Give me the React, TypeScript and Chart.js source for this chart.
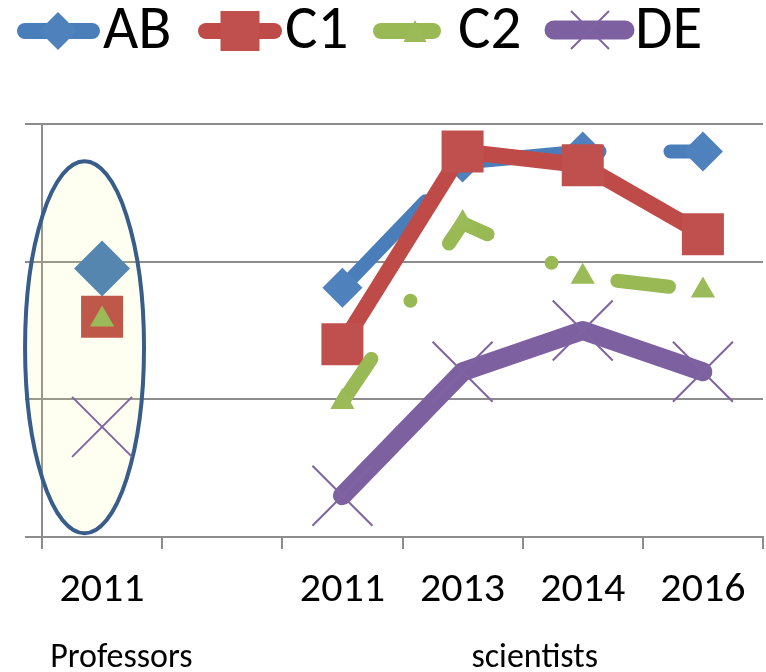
import React, { useEffect, useRef } from 'react';
import { Chart, registerables } from 'chart.js';

Chart.register(...registerables);

// ---- data ----
const categories = ['2011', '', '2011', '2013', '2014', '2016'];
const groupLabels = ['Professors', 'scientists'];
const seriesNames = ['AB', 'C1', 'C2', 'DE'];
const abValues = [1.95, null, 1.81, 2.72, 2.8, 2.8];
const c1Values = [1.6, null, 1.4, 2.8, 2.7, 2.2];
const c2Values = [1.58, null, 0.98, 2.28, 1.89, 1.79];
const deValues = [0.8, null, 0.3, 1.2, 1.5, 1.2];
const yTickValues = [0, 1, 2, 3];
const PROF_INDEX = 0; // first category belongs to the "Professors" group

// ---- layout / style constants ----
const GROUP_CENTERS = [0.16, 3.6]; // in category units
const ELLIPSE = { cx: -0.146, rx: 0.495, cy: 1.378, ry: 1.351 };
const COLORS = {
  ab: { line: '#4A7EBB', mark: '#4F81BD', prof: '#5586B0' },
  c1: { line: '#BE4B48', mark: '#C0504D', prof: '#C0584A' },
  c2: { line: '#98B954', mark: '#9BBB59', prof: '#9BBB59' },
  de: { line: '#7D60A0', mark: '#8064A2', prof: '#8064A2' },
};
const GRID = '#8c8c8c';

function hasFont(name: string) {
  const ctx = document.createElement('canvas').getContext('2d')!;
  const s = 'AB C1 2011 Professors scientists';
  ctx.font = '40px monospace';
  const a = ctx.measureText(s).width;
  ctx.font = `40px "${name}", monospace`;
  const b = ctx.measureText(s).width;
  return Math.abs(a - b) > 0.5;
}

const profPart = (vals: (number | null)[]) => vals.map((v, i) => (i === PROF_INDEX ? v : null));
const sciPart = (vals: (number | null)[]) => vals.map((v, i) => (i === PROF_INDEX ? null : v));

export default function App() {
  const ref = useRef<HTMLCanvasElement>(null);

  useEffect(() => {
    const canvas = ref.current!;
    const carlito = hasFont('Carlito');
    const fam = carlito ? 'Carlito, Lato, sans-serif' : 'Lato, sans-serif';
    const sz = carlito ? { legend: 61, year: 42, group: 34, pad: 16 } : { legend: 55, year: 37, group: 31, pad: 19 };

    const ellipsePlugin = {
      id: 'profEllipse',
      beforeDatasetsDraw(chart: any) {
        const { ctx } = chart;
        const xs = chart.scales.x;
        const ys = chart.scales.y;
        const cx = xs.getPixelForValue(ELLIPSE.cx);
        const rx = xs.getPixelForValue(ELLIPSE.rx) - xs.getPixelForValue(0);
        const cy = ys.getPixelForValue(ELLIPSE.cy);
        const ry = ys.getPixelForValue(0) - ys.getPixelForValue(ELLIPSE.ry);
        ctx.save();
        ctx.beginPath();
        ctx.ellipse(cx, cy, rx, ry, 0, 0, Math.PI * 2);
        ctx.fillStyle = 'rgba(255,255,150,0.13)';
        ctx.fill();
        ctx.lineWidth = 4;
        ctx.strokeStyle = '#385D8A';
        ctx.stroke();
        ctx.restore();
      },
    };

    const legendLayout = [
      { line: [25, 92], y: 31, w: 16, mark: 58, text: 103 },
      { line: [206, 274], y: 31, w: 16, mark: 240, text: 285 },
      { line: [381, 433], y: 31, w: 16, mark: 415, text: 458 },
      { line: [554, 625], y: 30, w: 19, mark: 590, text: 635 },
    ];
    const legendColors = [COLORS.ab, COLORS.c1, COLORS.c2, COLORS.de];

    const legendPlugin = {
      id: 'iconLegend',
      afterDraw(chart: any) {
        const { ctx } = chart;
        ctx.save();
        legendLayout.forEach((L, i) => {
          const c = legendColors[i];
          ctx.beginPath();
          ctx.lineCap = 'round';
          ctx.lineWidth = L.w;
          ctx.strokeStyle = c.line;
          ctx.moveTo(L.line[0], L.y);
          ctx.lineTo(L.line[1], L.y);
          ctx.stroke();
          ctx.fillStyle = c.mark;
          ctx.strokeStyle = c.mark;
          const m = L.mark;
          const y = L.y;
          ctx.beginPath();
          if (i === 0) {
            ctx.moveTo(m - 19, y);
            ctx.lineTo(m, y - 19);
            ctx.lineTo(m + 19, y);
            ctx.lineTo(m, y + 19);
            ctx.closePath();
            ctx.fill();
          } else if (i === 1) {
            ctx.rect(m - 19.5, y - 20, 39, 40);
            ctx.fill();
          } else if (i === 2) {
            ctx.moveTo(m, y - 11);
            ctx.lineTo(m + 11.5, y + 11);
            ctx.lineTo(m - 11.5, y + 11);
            ctx.closePath();
            ctx.fill();
          } else {
            ctx.lineWidth = 2;
            ctx.lineCap = 'butt';
            ctx.moveTo(m - 19, y - 19);
            ctx.lineTo(m + 19, y + 19);
            ctx.moveTo(m + 19, y - 19);
            ctx.lineTo(m - 19, y + 19);
            ctx.stroke();
          }
          ctx.fillStyle = '#000';
          ctx.font = `${sz.legend}px ${fam}`;
          ctx.textAlign = 'left';
          ctx.textBaseline = 'alphabetic';
          ctx.fillText(seriesNames[i], L.text, 48);
        });
        // group labels under the category axis
        const xs = chart.scales.x;
        ctx.font = `${sz.group}px ${fam}`;
        ctx.textAlign = 'center';
        ctx.fillStyle = '#000';
        groupLabels.forEach((g, i) => {
          ctx.fillText(g, xs.getPixelForValue(GROUP_CENTERS[i]), 667);
        });
        ctx.restore();
      },
    };

    const series = [
      { name: seriesNames[0], vals: abValues, c: COLORS.ab, order: 4, width: 14, dash: [120, 71], style: 'rectRot', rSci: 20, rProf: 28, bw: 0 },
      { name: seriesNames[1], vals: c1Values, c: COLORS.c1, order: 3, width: 16, dash: [], style: 'rect', rSci: 29.7, rProf: 29.7, bw: 0 },
      { name: seriesNames[2], vals: c2Values, c: COLORS.c2, order: 2, width: 14, dash: [52, 70, 0, 69], style: 'triangle', rSci: 14, rProf: 14, bw: 0 },
      { name: seriesNames[3], vals: deValues, c: COLORS.de, order: 1, width: 19, dash: [], style: 'crossRot', rSci: 42.4, rProf: 42.4, bw: 2 },
    ];

    const datasets: any[] = [];
    series.forEach((s) => {
      datasets.push({
        label: s.name,
        data: sciPart(s.vals),
        order: s.order,
        borderColor: s.c.line,
        borderWidth: s.width,
        borderDash: s.dash,
        borderCapStyle: 'round',
        borderJoinStyle: 'round',
        pointStyle: s.style,
        pointRadius: s.rSci,
        pointBackgroundColor: s.c.mark,
        pointBorderColor: s.c.mark,
        pointBorderWidth: s.bw,
        clip: false,
      });
    });
    series.forEach((s) => {
      datasets.push({
        label: s.name + ' (Professors)',
        data: profPart(s.vals),
        order: s.order,
        showLine: false,
        pointStyle: s.style,
        pointRadius: s.rProf,
        pointBackgroundColor: s.c.prof,
        pointBorderColor: s.c.prof,
        pointBorderWidth: s.bw,
        clip: false,
      });
    });

    const chart = new Chart(canvas, {
      type: 'line',
      data: { labels: categories, datasets } as any,
      options: {
        animation: false,
        responsive: true,
        maintainAspectRatio: false,
        layout: { autoPadding: false, padding: { top: 124, left: 25, right: 3, bottom: 35 } },
        plugins: {
          legend: { display: false },
          tooltip: { enabled: false },
        },
        scales: {
          x: {
            type: 'category',
            offset: true,
            afterFit: (s: any) => {
              s.height = 100;
              s.paddingLeft = 0;
              s.paddingRight = 0;
            },
            grid: {
              offset: true,
              drawOnChartArea: false,
              drawTicks: true,
              tickLength: 12,
              color: GRID,
              lineWidth: 2,
            },
            border: { display: true, color: GRID, width: 2 },
            ticks: {
              color: '#000',
              font: { family: fam, size: sz.year },
              padding: sz.pad,
              maxRotation: 0,
              autoSkip: false,
            },
          },
          y: {
            min: yTickValues[0],
            max: yTickValues[yTickValues.length - 1],
            afterFit: (s: any) => {
              s.width = 17;
              s.paddingTop = 0;
              s.paddingBottom = 0;
            },
            afterBuildTicks: (s: any) => {
              s.ticks = yTickValues.map((v) => ({ value: v }));
            },
            grid: { color: GRID, lineWidth: 2, drawTicks: true, tickLength: 17 },
            border: { display: true, color: GRID, width: 2 },
            ticks: { display: false },
          },
        },
      } as any,
      plugins: [ellipsePlugin, legendPlugin],
    });
    return () => chart.destroy();
  }, []);

  return (
    <div style={{ position: 'fixed', left: 0, top: 0, width: 766, height: 672 }}>
      <canvas ref={ref} style={{ display: 'block' }} />
    </div>
  );
}
